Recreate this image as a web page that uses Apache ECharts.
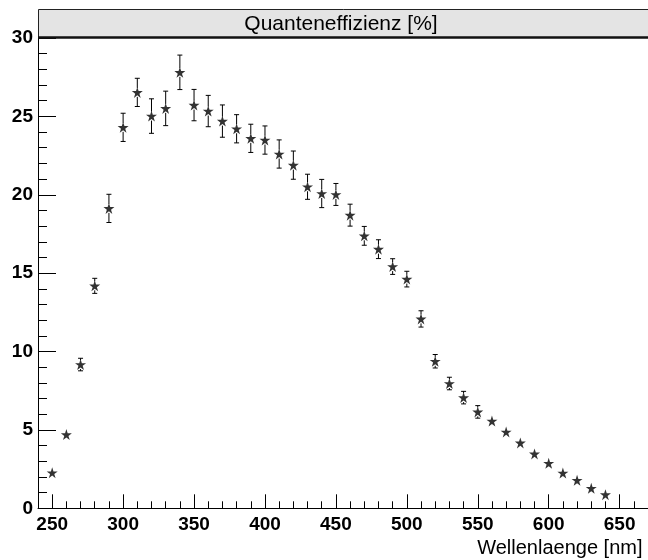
<!DOCTYPE html>
<html>
<head>
<meta charset="utf-8">
<script src="https://cdn.jsdelivr.net/npm/echarts@6/dist/echarts.min.js"></script>
<style>
  html, body { margin: 0; padding: 0; background: #ffffff; }
  #chart { width: 648px; height: 560px; }
</style>
</head>
<body>
<div id="chart"></div>
<script>
// ---- data ----
const wavelength = [250, 260, 270, 280, 290, 300, 310, 320, 330, 340,
                    350, 360, 370, 380, 390, 400, 410, 420, 430, 440,
                    450, 460, 470, 480, 490, 500, 510, 520, 530, 540,
                    550, 560, 570, 580, 590, 600, 610, 620, 630, 640];
const efficiency = [2.27, 4.70, 9.17, 14.19, 19.13, 24.30, 26.53, 25.02, 25.51, 27.81,
                    25.72, 25.34, 24.70, 24.21, 23.60, 23.49, 22.60, 21.89, 20.51, 20.08,
                    20.02, 18.70, 17.38, 16.53, 15.42, 14.62, 12.08, 9.38, 7.96, 7.06,
                    6.15, 5.57, 4.87, 4.17, 3.47, 2.87, 2.25, 1.79, 1.28, 0.87];
const errors     = [0.15, 0.2, 0.4, 0.48, 0.9, 0.9, 0.9, 1.1, 1.1, 1.1,
                    1.0, 1.0, 1.03, 0.9, 0.9, 0.9, 0.9, 0.9, 0.8, 0.9,
                    0.7, 0.7, 0.6, 0.6, 0.5, 0.5, 0.52, 0.43, 0.4, 0.4,
                    0.4, 0.3, 0.2, 0.2, 0.15, 0.15, 0.1, 0.1, 0.1, 0.1];
const xMajorTicks = [250, 300, 350, 400, 450, 500, 550, 600, 650];
const titleText = 'Quanteneffizienz [%]';
const xAxisTitle = 'Wellenlaenge [nm]';

// ---- chart ----
const chart = echarts.init(document.getElementById('chart'), null, { renderer: 'canvas' });

const points = wavelength.map((x, i) => [x, efficiency[i]]);
const errData = wavelength.map((x, i) => [x, efficiency[i], errors[i]]);

const STAR = 'path://M50,0 L61.2,34.5 L97.6,34.5 L68.2,55.9 L79.4,90.5 L50,69.1 L20.6,90.5 L31.8,55.9 L2.4,34.5 L38.8,34.5 Z';
const FONT = '"Liberation Sans", Arial, Helvetica, sans-serif';
const MARKER_HALF = 4.5;

const option = {
  backgroundColor: '#ffffff',
  animation: false,
  grid: { left: 38, top: 38, width: 612.5, height: 470.3, containLabel: false },
  graphic: [
    {
      type: 'rect', z: 100,
      shape: { x: 38.5, y: 9.5, width: 640, height: 28 },
      style: { fill: '#e4e4e4', stroke: '#222', lineWidth: 1 }
    },
    {
      type: 'line', z: 101,
      shape: { x1: 38, y1: 37.5, x2: 648, y2: 37.5 },
      style: { stroke: '#111', lineWidth: 2.5 }
    },
    {
      type: 'text', z: 102,
      style: {
        text: titleText, x: 341, y: 24,
        align: 'center', verticalAlign: 'middle',
        font: '21px ' + FONT, fill: '#000'
      }
    }
  ],
  xAxis: [
    {
      type: 'value', min: 240, max: 670, interval: 10,
      position: 'bottom',
      axisLine: { show: true, onZero: false, lineStyle: { color: '#000', width: 1 } },
      axisTick: { show: true, inside: true, length: 7, lineStyle: { color: '#000', width: 1 } },
      axisLabel: { show: false },
      splitLine: { show: false }
    },
    {
      type: 'value', min: 240, max: 670,
      position: 'bottom',
      name: xAxisTitle,
      nameLocation: 'end',
      nameGap: -5.5,
      nameTextStyle: {
        fontFamily: FONT, fontSize: 20, color: '#000',
        align: 'right', verticalAlign: 'top', padding: [30, 0, 0, 0]
      },
      axisLine: { show: false, onZero: false },
      axisTick: { show: true, inside: true, length: 14, customValues: xMajorTicks,
                  lineStyle: { color: '#000', width: 1 } },
      axisLabel: { show: true, customValues: xMajorTicks, margin: 7,
                   fontFamily: FONT, fontWeight: 'bold', fontSize: 19, color: '#000' },
      splitLine: { show: false }
    }
  ],
  yAxis: {
    type: 'value', min: 0, max: 30, interval: 5,
    axisLine: { show: true, onZero: false, lineStyle: { color: '#000', width: 1 } },
    axisTick: { show: true, inside: true, length: 18, lineStyle: { color: '#000', width: 1 } },
    minorTick: { show: true, splitNumber: 5, length: 9, lineStyle: { color: '#000', width: 1 } },
    axisLabel: { margin: 5, fontFamily: FONT, fontWeight: 'bold', fontSize: 19, color: '#000' },
    splitLine: { show: false },
    minorSplitLine: { show: false }
  },
  series: [
    {
      type: 'custom',
      xAxisIndex: 0,
      data: errData,
      z: 2,
      renderItem: function (params, api) {
        const x = api.value(0), y = api.value(1), e = api.value(2);
        const c = api.coord([x, y]);
        const top = api.coord([x, y + e]);
        const bot = api.coord([x, y - e]);
        const len = c[1] - top[1];
        if (len <= MARKER_HALF + 0.5) return null;
        const cap = 2.5;
        const st = { stroke: '#000', lineWidth: 1 };
        return {
          type: 'group',
          children: [
            { type: 'line', shape: { x1: c[0], y1: top[1], x2: c[0], y2: c[1] - MARKER_HALF }, style: st },
            { type: 'line', shape: { x1: c[0], y1: c[1] + MARKER_HALF, x2: c[0], y2: bot[1] }, style: st },
            { type: 'line', shape: { x1: c[0] - cap, y1: top[1], x2: c[0] + cap, y2: top[1] }, style: st },
            { type: 'line', shape: { x1: c[0] - cap, y1: bot[1], x2: c[0] + cap, y2: bot[1] }, style: st }
          ]
        };
      }
    },
    {
      type: 'scatter',
      xAxisIndex: 0,
      data: points,
      symbol: STAR,
      symbolSize: [11, 11],
      itemStyle: { color: '#000' },
      z: 3
    }
  ]
};

chart.setOption(option);
</script>
</body>
</html>
